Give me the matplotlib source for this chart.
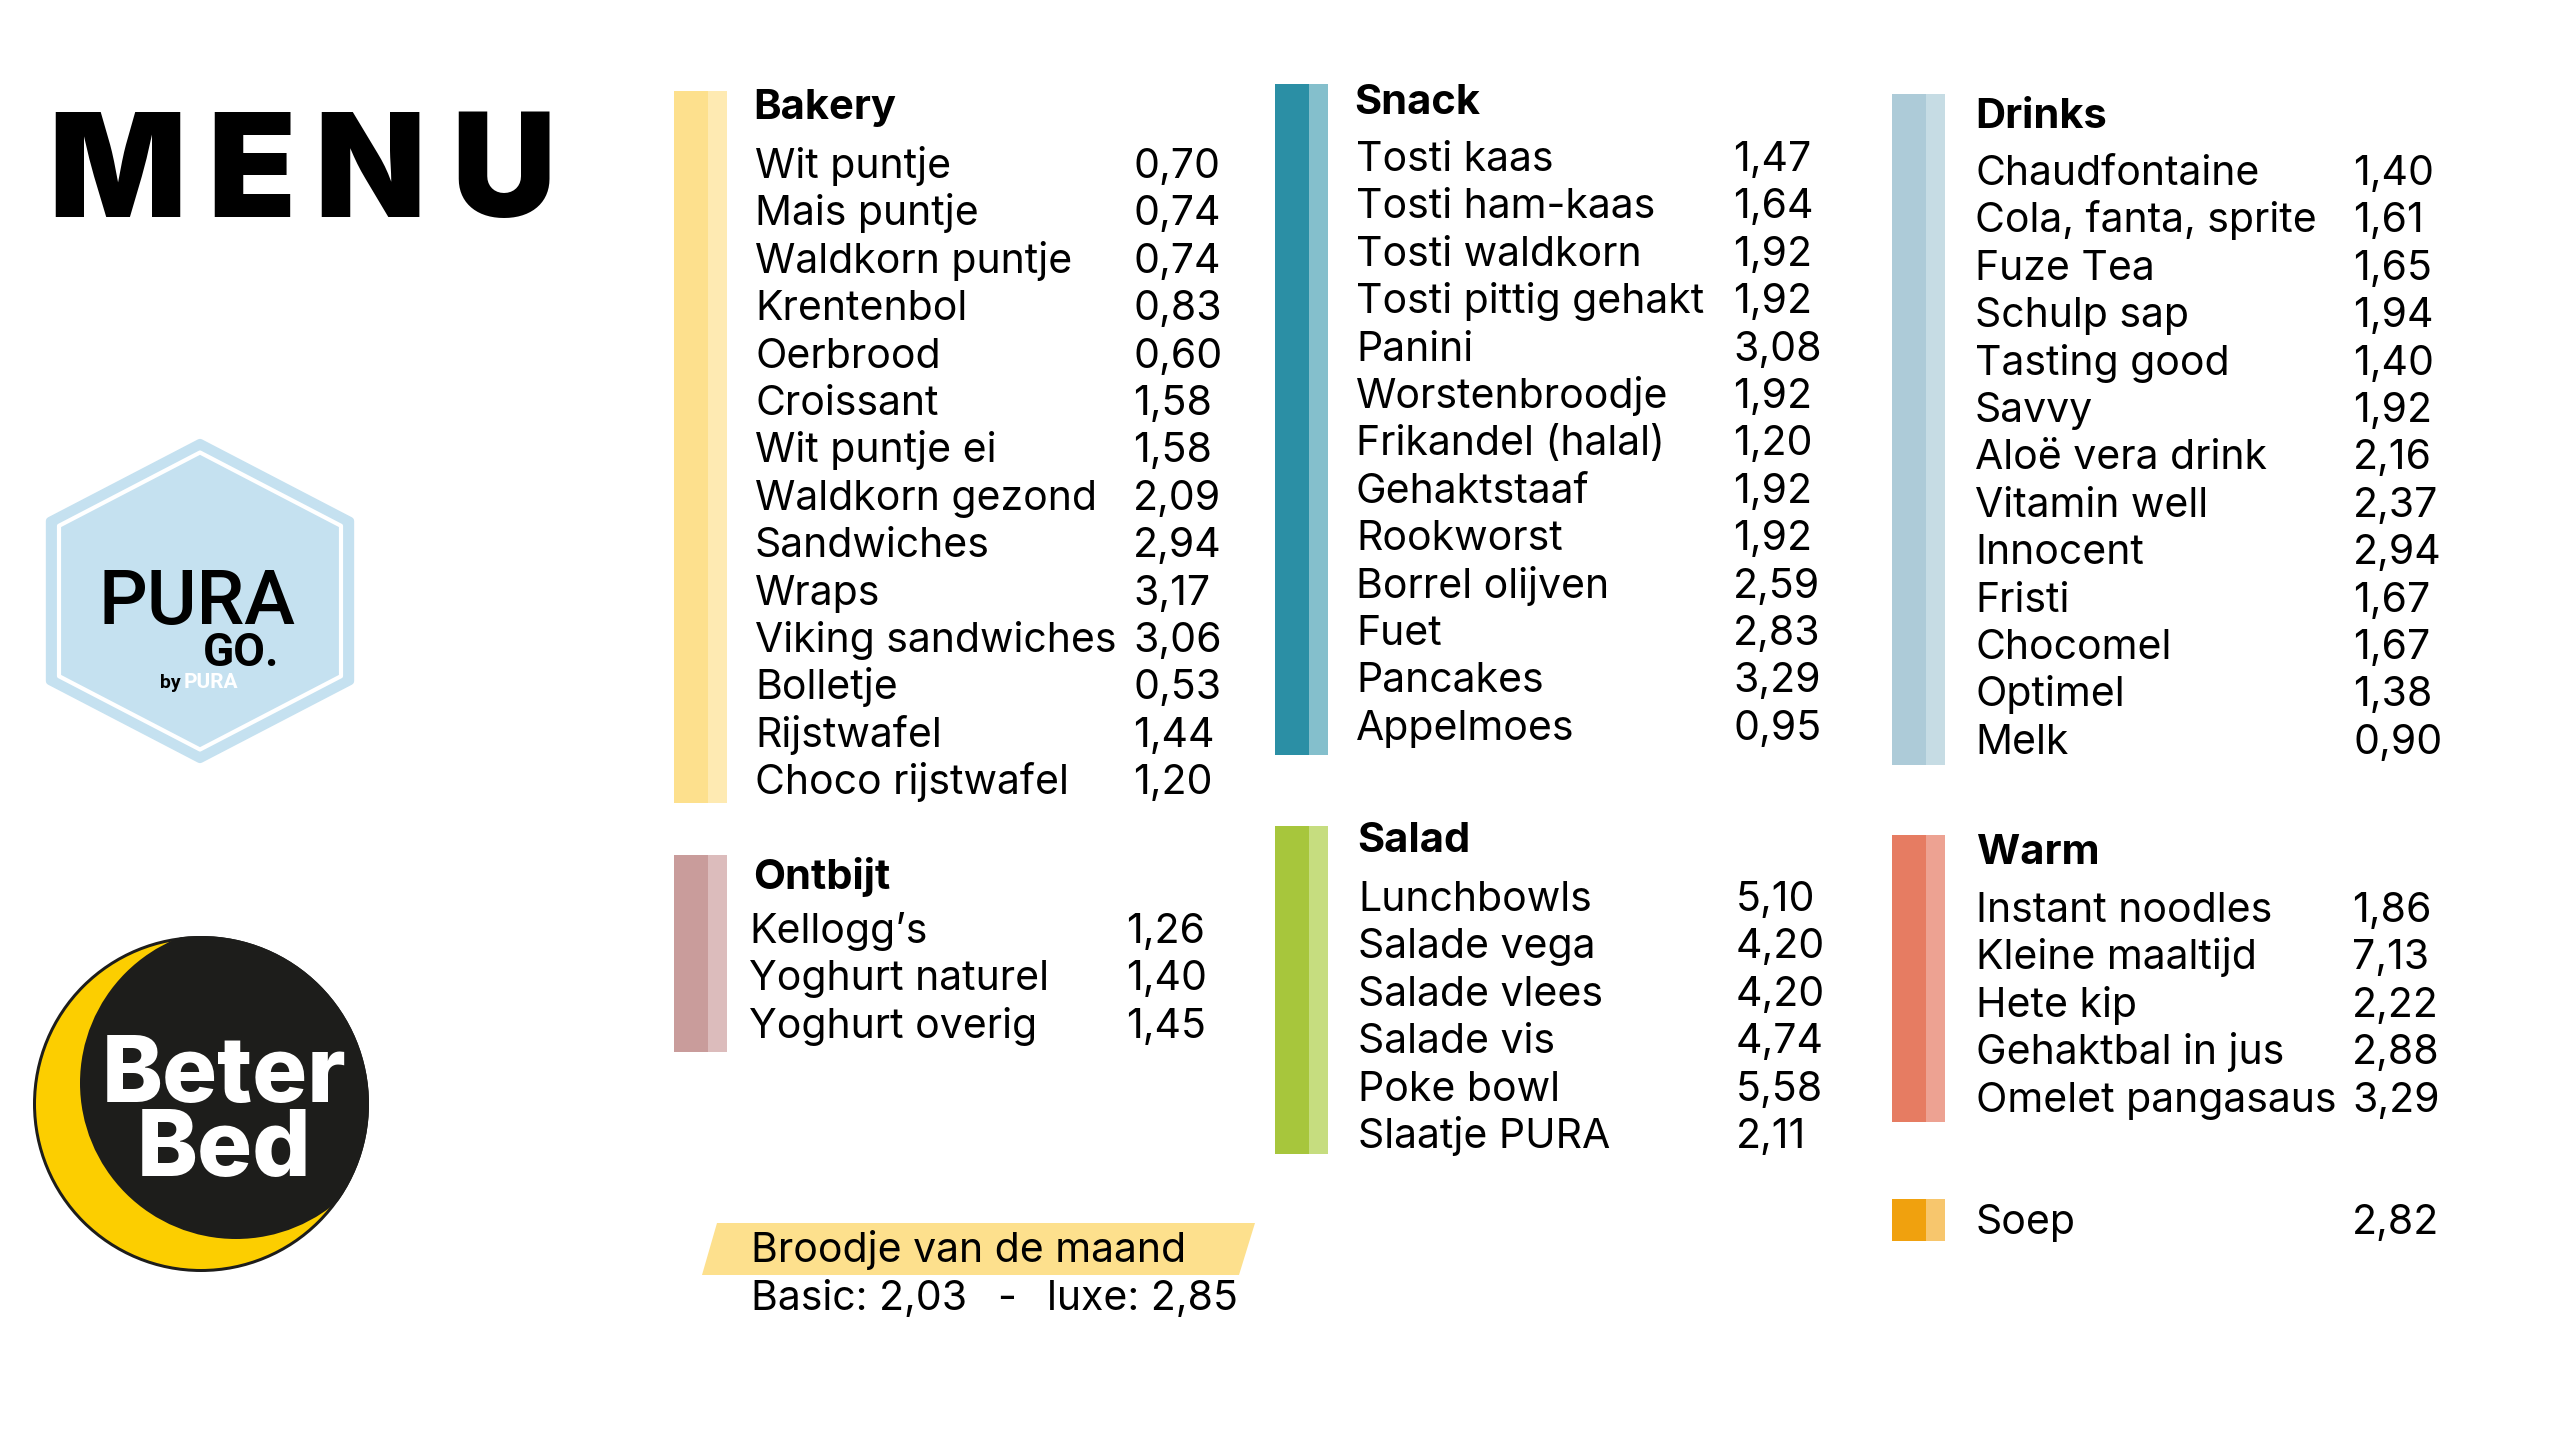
import matplotlib
matplotlib.use("Agg")
import matplotlib.pyplot as plt
from matplotlib.patches import Polygon, Circle, Rectangle

plt.rcParams['font.family'] = ['Inter', 'DejaVu Sans']

# =========================
# DATA
# =========================
bakery_items = ["Wit puntje", "Mais puntje", "Waldkorn puntje", "Krentenbol", "Oerbrood",
                "Croissant", "Wit puntje ei", "Waldkorn gezond", "Sandwiches", "Wraps",
                "Viking sandwiches", "Bolletje", "Rijstwafel", "Choco rijstwafel"]
bakery_prices = ["0,70", "0,74", "0,74", "0,83", "0,60", "1,58", "1,58", "2,09", "2,94",
                 "3,17", "3,06", "0,53", "1,44", "1,20"]

ontbijt_items = ["Kellogg’s", "Yoghurt naturel", "Yoghurt overig"]
ontbijt_prices = ["1,26", "1,40", "1,45"]

snack_items = ["Tosti kaas", "Tosti ham-kaas", "Tosti waldkorn", "Tosti pittig gehakt", "Panini",
               "Worstenbroodje", "Frikandel (halal)", "Gehaktstaaf", "Rookworst", "Borrel olijven",
               "Fuet", "Pancakes", "Appelmoes"]
snack_prices = ["1,47", "1,64", "1,92", "1,92", "3,08", "1,92", "1,20", "1,92", "1,92",
                "2,59", "2,83", "3,29", "0,95"]

salad_items = ["Lunchbowls", "Salade vega", "Salade vlees", "Salade vis", "Poke bowl", "Slaatje PURA"]
salad_prices = ["5,10", "4,20", "4,20", "4,74", "5,58", "2,11"]

drinks_items = ["Chaudfontaine", "Cola, fanta, sprite", "Fuze Tea", "Schulp sap", "Tasting good",
                "Savvy", "Aloë vera drink", "Vitamin well", "Innocent", "Fristi", "Chocomel",
                "Optimel", "Melk"]
drinks_prices = ["1,40", "1,61", "1,65", "1,94", "1,40", "1,92", "2,16", "2,37", "2,94",
                 "1,67", "1,67", "1,38", "0,90"]

warm_items = ["Instant noodles", "Kleine maaltijd", "Hete kip", "Gehaktbal in jus", "Omelet pangasaus"]
warm_prices = ["1,86", "7,13", "2,22", "2,88", "3,29"]

soep_items = ["Soep"]
soep_prices = ["2,82"]

broodje_title = "Broodje van de maand"
broodje_basic = "2,03"
broodje_luxe = "2,85"

# =========================
# FIGURE
# =========================
fig = plt.figure(figsize=(25.6, 14.32), dpi=100)
ax = fig.add_axes([0, 0, 1, 1])
ax.set_xlim(0, 2560)
ax.set_ylim(1432, 0)
ax.axis("off")

ITEM_FS = 29.5
TITLE_FS = 30
STEP = 47.4


def section(title, items, prices, bar_x, bar_top, bar_bottom, dark, light,
            title_x, title_y, item_x, first_y, price_x):
    ax.add_patch(Rectangle((bar_x, bar_top), 34, bar_bottom - bar_top, color=dark, lw=0))
    ax.add_patch(Rectangle((bar_x + 34, bar_top), 19, bar_bottom - bar_top, color=light, lw=0))
    if title:
        ax.text(title_x, title_y, title, fontsize=TITLE_FS, fontweight="bold",
                va="baseline", ha="left", color="black")
    for i, (name, price) in enumerate(zip(items, prices)):
        y = first_y + i * STEP
        ax.text(item_x, y, name, fontsize=ITEM_FS, va="baseline", ha="left", color="black")
        ax.text(price_x, y, price, fontsize=ITEM_FS, va="baseline", ha="left", color="black")


section("Bakery", bakery_items, bakery_prices, 674, 91, 803, "#fde08d", "#feeab2",
        753, 119, 755, 178, 1133)
section("Ontbijt", ontbijt_items, ontbijt_prices, 674, 855, 1052, "#c99c9b", "#dcbcbc",
        753, 889, 749, 943, 1126)
section("Snack", snack_items, snack_prices, 1275, 84, 755, "#2b8fa5", "#84bfcc",
        1354, 114, 1356, 171, 1733)
section("Salad", salad_items, salad_prices, 1275, 826, 1154, "#a7c63c", "#c6dd7f",
        1357, 852, 1358, 911, 1736)
section("Drinks", drinks_items, drinks_prices, 1892, 94, 765, "#adcbd8", "#c6dce4",
        1975, 128, 1975, 185, 2353)
section("Warm", warm_items, warm_prices, 1892, 835, 1122, "#e67c62", "#eda292",
        1977, 864, 1976, 922, 2352)
section(None, soep_items, soep_prices, 1892, 1199, 1241, "#f0a10e", "#f7c66d",
        0, 0, 1976, 1234, 2352)

# Broodje van de maand banner
ax.add_patch(Polygon([(717, 1223), (1255, 1223), (1239, 1275), (702, 1275)],
                     closed=True, color="#fde08d", lw=0))
ax.text(751, 1262, broodje_title, fontsize=ITEM_FS, va="baseline", ha="left")
ax.text(751, 1310, "Basic: " + broodje_basic, fontsize=ITEM_FS, va="baseline", ha="left")
ax.text(997, 1310, "-", fontsize=ITEM_FS, va="baseline", ha="left")
ax.text(1047, 1310, "luxe: " + broodje_luxe, fontsize=ITEM_FS, va="baseline", ha="left")

# MENU title
for letter, cx in zip("MENU", [117, 251, 370, 503]):
    ax.text(cx, 217, letter, fontsize=104, fontweight="black", va="baseline",
            ha="center", color="black")

# PURA GO. logo (hexagon)
hx, hy = 200, 601
def hexagon(s):
    return [(hx, hy - 158 * s), (hx + 150 * s, hy - 80 * s), (hx + 150 * s, hy + 80 * s),
            (hx, hy + 158 * s), (hx - 150 * s, hy + 80 * s), (hx - 150 * s, hy - 80 * s)]

ax.add_patch(Polygon(hexagon(1.0), closed=True, facecolor="#c5e1f0", edgecolor="#c5e1f0",
                     lw=6, joinstyle="round"))
ax.add_patch(Polygon(hexagon(0.94), closed=True, facecolor="none", edgecolor="white",
                     lw=3, joinstyle="round"))
logo_font = ["Liberation Sans Narrow", "Roboto", "DejaVu Sans"]
ax.text(197, 624, "PURA", fontsize=55, fontweight="medium", family=logo_font,
        va="baseline", ha="center", color="black")
ax.text(279, 666, "GO.", fontsize=33, fontweight="bold", family=logo_font,
        va="baseline", ha="right", color="black")
ax.text(181, 688, "by", fontsize=14, fontweight="bold", family=logo_font,
        va="baseline", ha="right", color="black")
ax.text(184, 688, "PURA", fontsize=15, fontweight="bold", family=logo_font,
        va="baseline", ha="left", color="white")

# Beter Bed logo
outer = Circle((201, 1104), 168, facecolor="#1d1d1b", lw=0)
ax.add_patch(outer)
ax.add_patch(Circle((201, 1104), 165, facecolor="#fcce00", lw=0))
inner = Circle((236, 1083), 156, facecolor="#1d1d1b", lw=0)
ax.add_patch(inner)
inner.set_clip_path(outer)
ax.text(224, 1176, "Beter\nBed", fontsize=66, fontweight="heavy", va="baseline",
        ha="center", multialignment="center", linespacing=0.82, color="white")

fig.savefig("out.png", dpi=100, facecolor="white")
